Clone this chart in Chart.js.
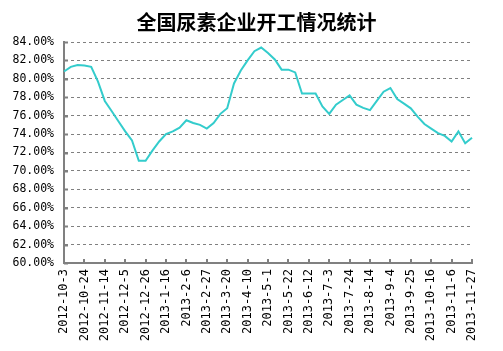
<!DOCTYPE html>
<html>
<head>
<meta charset="utf-8">
<script src="https://cdn.jsdelivr.net/npm/chart.js@4.4.0/dist/chart.umd.min.js"></script>
<style>
  body { margin: 0; background: #ffffff; }
  #wrap { width: 503px; height: 351px; position: relative; }
</style>
</head>
<body>
<div id="wrap"><canvas id="grafico"></canvas></div>
<script>
// fechas semanales
var fechas = [
  "2012-10-3", "2012-10-10", "2012-10-17", "2012-10-24", "2012-10-31", "2012-11-7", "2012-11-14",
  "2012-11-21", "2012-11-28", "2012-12-5", "2012-12-12", "2012-12-19", "2012-12-26",
  "2013-1-2", "2013-1-9", "2013-1-16", "2013-1-23", "2013-1-30", "2013-2-6", "2013-2-13",
  "2013-2-20", "2013-2-27", "2013-3-6", "2013-3-13", "2013-3-20", "2013-3-27", "2013-4-3",
  "2013-4-10", "2013-4-17", "2013-4-24", "2013-5-1", "2013-5-8", "2013-5-15", "2013-5-22",
  "2013-5-29", "2013-6-5", "2013-6-12", "2013-6-19", "2013-6-26", "2013-7-3", "2013-7-10",
  "2013-7-17", "2013-7-24", "2013-7-31", "2013-8-7", "2013-8-14", "2013-8-21", "2013-8-28",
  "2013-9-4", "2013-9-11", "2013-9-18", "2013-9-25", "2013-10-2", "2013-10-9", "2013-10-16",
  "2013-10-23", "2013-10-30", "2013-11-6", "2013-11-13", "2013-11-20", "2013-11-27"
];

// tasa de operacion (%)
var tasaOperacion = [
  80.8, 81.3, 81.5, 81.45, 81.3, 79.7, 77.6, 76.5, 75.4, 74.3,
  73.3, 71.1, 71.1, 72.2, 73.2, 74.0, 74.3, 74.7, 75.5, 75.2,
  75.0, 74.6, 75.2, 76.2, 76.8, 79.5, 80.9, 82.0, 83.0, 83.4,
  82.8, 82.1, 81.0, 81.0, 80.7, 78.4, 78.4, 78.4, 77.0, 76.2,
  77.2, 77.7, 78.2, 77.2, 76.85, 76.6, 77.6, 78.6, 79.0, 77.8,
  77.3, 76.8, 75.9, 75.1, 74.6, 74.1, 73.8, 73.2, 74.3, 73.0, 73.6
];

var yMin = 60;
var yMax = 84;
var yPaso = 2;
var pasoEtiqueta = 3;

var fuenteEjes = { family: "'DejaVu Sans Mono', monospace", size: 12 };
var fuenteEjeY = { family: "'DejaVu Sans Mono', monospace", size: 11.5 };

// marcas cortas hacia dentro sobre los ejes
var marcasEjes = {
  id: "marcasEjes",
  afterDraw: function (chart) {
    var ctx = chart.ctx;
    var x = chart.scales.x;
    var y = chart.scales.y;
    ctx.save();
    ctx.strokeStyle = "#808080";
    ctx.lineWidth = 2;
    ctx.beginPath();
    for (var i = 0; i < fechas.length; i += pasoEtiqueta) {
      var px = Math.round(x.getPixelForValue(i));
      ctx.moveTo(px, y.bottom);
      ctx.lineTo(px, y.bottom - 4);
    }
    for (var v = yMin; v <= yMax; v += yPaso) {
      var py = Math.round(y.getPixelForValue(v)) + 0.5;
      ctx.moveTo(x.left, py);
      ctx.lineTo(x.left + 4, py);
    }
    ctx.stroke();
    ctx.restore();
  }
};

var ctx = document.getElementById("grafico").getContext("2d");

new Chart(ctx, {
  type: "line",
  data: {
    labels: fechas,
    datasets: [{
      label: "开工率",
      data: tasaOperacion,
      borderColor: "#33CCCC",
      backgroundColor: "#33CCCC",
      borderWidth: 2,
      pointRadius: 0,
      tension: 0,
      fill: false
    }]
  },
  options: {
    responsive: true,
    maintainAspectRatio: false,
    animation: false,
    layout: { padding: { left: 10, right: 0, top: 0, bottom: 0 } },
    plugins: {
      legend: { display: false },
      tooltip: { enabled: false },
      title: {
        display: true,
        text: "全国尿素企业开工情况统计",
        color: "#000000",
        font: { family: "'Noto Sans CJK SC', sans-serif", size: 20, weight: "bold", lineHeight: 1.2 },
        padding: { top: 10, bottom: 8 }
      }
    },
    scales: {
      x: {
        grid: { display: false, drawTicks: false },
        border: { display: true, color: "#808080", width: 2 },
        ticks: {
          autoSkip: false,
          maxRotation: 90,
          minRotation: 90,
          padding: 6,
          color: "#000000",
          font: fuenteEjes,
          callback: function (value, index) {
            return index % pasoEtiqueta === 0 ? fechas[index] : null;
          }
        },
        afterFit: function (scale) {
          scale.height = 88;
        }
      },
      y: {
        min: yMin,
        max: yMax,
        grid: {
          color: "#808080",
          lineWidth: 1,
          drawTicks: false
        },
        border: { display: true, color: "#808080", width: 2, dash: [3, 3] },
        ticks: {
          stepSize: yPaso,
          padding: 10,
          color: "#000000",
          font: fuenteEjeY,
          callback: function (value) {
            return value.toFixed(2) + "%";
          }
        },
        afterFit: function (scale) {
          scale.width = 54;
        }
      },
      // margen derecho vacio
      margen: {
        type: "linear",
        position: "right",
        display: true,
        grid: { display: false, drawTicks: false },
        border: { display: false },
        ticks: { display: false },
        afterFit: function (scale) {
          scale.width = 31;
        }
      }
    }
  },
  plugins: [marcasEjes]
});
</script>
</body>
</html>
